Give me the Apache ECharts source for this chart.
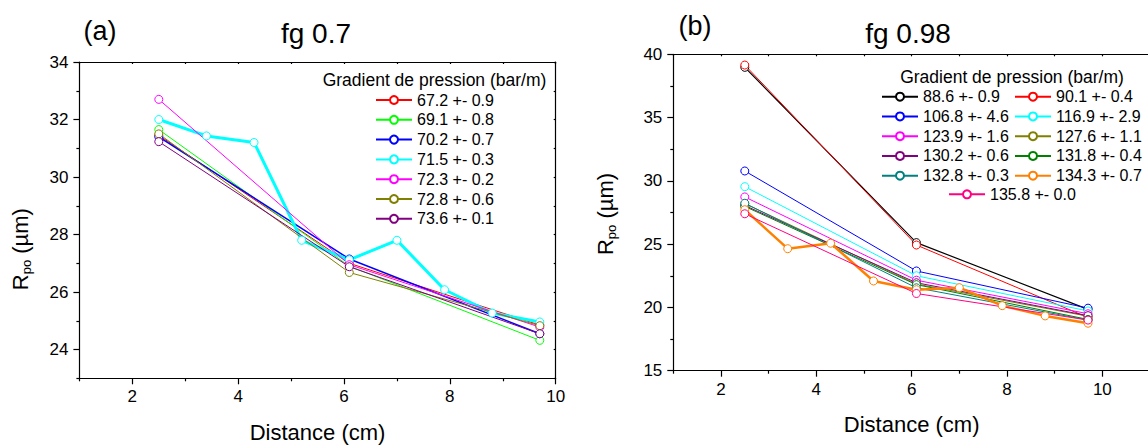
<!DOCTYPE html>
<html>
<head>
<meta charset="utf-8">
<script src="https://cdn.jsdelivr.net/npm/echarts@6/dist/echarts.min.js"></script>
<style>
html,body{margin:0;padding:0;background:#fff;}
#chart{width:1148px;height:447px;}
</style>
</head>
<body>
<div id="chart"></div>
<script>
// ---------- data ----------
const xTickMajor = [2, 4, 6, 8, 10];
const xTickMinorL = [1, 3, 5, 7, 9];
const xTickMinorR = [1, 3, 5, 7, 9, 11];
const yTickMajorL = [24, 26, 28, 30, 32, 34];
const yTickMinorL = [23, 25, 27, 29, 31, 33];
const yTickMajorR = [15, 20, 25, 30, 35, 40];
const yTickMinorR = [17.5, 22.5, 27.5, 32.5, 37.5];

// panel (a) fg 0.7
const xA = [2.5, 6.1, 9.7];
const xA_715 = [2.5, 3.4, 4.3, 5.2, 6.1, 7.0, 7.9, 8.8, 9.7];
const a672 = [31.45, 27.0, 24.85];
const a691 = [31.65, 26.9, 24.32];
const a702 = [31.4, 27.15, 24.55];
const a715 = [32.0, 31.43, 31.2, 27.8, 27.12, 27.8, 26.08, 25.27, 24.96];
const a723 = [32.7, 26.95, 24.78];
const a728 = [31.5, 26.68, 24.83];
const a736 = [31.23, 26.88, 24.55];

// panel (b) fg 0.98
const xB = [2.5, 6.1, 9.7];
const xB_1343 = [2.5, 3.4, 4.3, 5.2, 6.1, 7.0, 7.9, 8.8, 9.7];
const b886 = [38.97, 25.12, 19.85];
const b901 = [39.15, 24.93, 19.2];
const b1068 = [30.78, 22.88, 19.94];
const b1169 = [29.54, 22.5, 19.72];
const b1239 = [28.73, 22.15, 19.5];
const b1276 = [28.2, 21.85, 19.3];
const b1302 = [28.05, 21.95, 19.35];
const b1318 = [27.98, 21.8, 19.05];
const b1328 = [28.23, 21.55, 19.0];
const b1343 = [27.72, 24.64, 25.07, 22.09, 21.4, 21.56, 20.14, 19.33, 18.75];
const b1358 = [27.4, 21.1, 19.0];

const namesA = ['67.2 +- 0.9','69.1 +- 0.8','70.2 +- 0.7','71.5 +- 0.3','72.3 +- 0.2','72.8 +- 0.6','73.6 +- 0.1'];
const namesB = ['88.6 +- 0.9','90.1 +- 0.4','106.8 +- 4.6','116.9 +- 2.9','123.9 +- 1.6','127.6 +- 1.1','130.2 +- 0.6','131.8 +- 0.4','132.8 +- 0.3','134.3 +- 0.7','135.8 +- 0.0'];

// ---------- chart ----------
const FONT = '"Liberation Sans", Arial, Helvetica, sans-serif';
const chart = echarts.init(document.getElementById('chart'), null, {renderer: 'svg'});

function ser(name, xs, ys, color, width, ax) {
  return {
    name: name, type: 'line', xAxisIndex: ax, yAxisIndex: ax,
    data: xs.map((x, i) => [x, ys[i]]),
    symbol: 'circle', symbolSize: 8, showSymbol: true,
    lineStyle: {color: color, width: width},
    itemStyle: {color: '#fff', borderColor: color, borderWidth: 1},
    emphasis: {disabled: true}, animation: false
  };
}

const axisLineStyle = {color: '#000', width: 1.2};

function xAxes(grid, min, max, major, minor) {
  const all = major.concat(minor).sort((a, b) => a - b);
  return [
    {type: 'value', gridIndex: grid, position: 'bottom', min: min, max: max,
     axisLine: {show: true, lineStyle: axisLineStyle},
     axisTick: {show: true, customValues: major, length: 6, lineStyle: axisLineStyle},
     axisLabel: {show: true, customValues: major, margin: 10, fontSize: 17, fontFamily: FONT, color: '#000'},
     splitLine: {show: false},
     name: 'Distance (cm)', nameLocation: 'middle', nameGap: 43,
     nameTextStyle: {fontSize: 22, fontFamily: FONT, color: '#000'}},
    {type: 'value', gridIndex: grid, position: 'bottom', min: min, max: max,
     axisLine: {show: false},
     axisTick: {show: true, customValues: minor, length: 3, lineStyle: axisLineStyle},
     axisLabel: {show: false}, splitLine: {show: false}},
    {type: 'value', gridIndex: grid, position: 'top', min: min, max: max,
     axisLine: {show: true, lineStyle: axisLineStyle},
     axisTick: {show: true, customValues: all, length: 2, inside: true, lineStyle: axisLineStyle},
     axisLabel: {show: false}, splitLine: {show: false}}
  ];
}

function yAxes(grid, min, max, major, minor, gap, pad) {
  const all = major.concat(minor).sort((a, b) => a - b);
  return [
    {type: 'value', gridIndex: grid, position: 'left', min: min, max: max,
     axisLine: {show: true, lineStyle: axisLineStyle},
     axisTick: {show: true, customValues: major, length: 6, lineStyle: axisLineStyle},
     axisLabel: {show: true, customValues: major, margin: 11, fontSize: 17, fontFamily: FONT, color: '#000'},
     splitLine: {show: false},
     name: '{a|R}{b|po}{a| (µm)}', nameLocation: 'middle', nameGap: gap,
     nameTextStyle: {fontFamily: FONT, color: '#000', padding: pad,
       rich: {a: {fontSize: 22, fontFamily: FONT, color: '#000', lineHeight: 26, verticalAlign: 'middle'},
              b: {fontSize: 13, fontFamily: FONT, color: '#000', lineHeight: 26, verticalAlign: 'bottom'}}}},
    {type: 'value', gridIndex: grid, position: 'left', min: min, max: max,
     axisLine: {show: false},
     axisTick: {show: true, customValues: minor, length: 3, lineStyle: axisLineStyle},
     axisLabel: {show: false}, splitLine: {show: false}},
    {type: 'value', gridIndex: grid, position: 'right', min: min, max: max,
     axisLine: {show: true, lineStyle: axisLineStyle},
     axisTick: {show: true, customValues: all, length: 2, inside: true, lineStyle: axisLineStyle},
     axisLabel: {show: false}, splitLine: {show: false}}
  ];
}

const xs = xAxes(0, 1, 10, xTickMajor, xTickMinorL).concat(xAxes(1, 1, 11, xTickMajor, xTickMinorR));
const ys = yAxes(0, 23, 34, yTickMajorL, yTickMinorL, 46, [0, 58, 0, 0]).concat(yAxes(1, 15, 40, yTickMajorR, yTickMinorR, 55, [0, 3, 0, 0]));

const series = [
  ser(namesA[0], xA, a672, '#FF0000', 1, 0),
  ser(namesA[1], xA, a691, '#00FF00', 1, 0),
  ser(namesA[2], xA, a702, '#0000FF', 1.5, 0),
  ser(namesA[3], xA_715, a715, '#00FFFF', 3, 0),
  ser(namesA[4], xA, a723, '#FF00FF', 1, 0),
  ser(namesA[5], xA, a728, '#808000', 1, 0),
  ser(namesA[6], xA, a736, '#800080', 1, 0),
  ser(namesB[0], xB, b886, '#000000', 1.2, 3),
  ser(namesB[1], xB, b901, '#FF0000', 1, 3),
  ser(namesB[2], xB, b1068, '#0000FF', 1, 3),
  ser(namesB[3], xB, b1169, '#00FFFF', 1, 3),
  ser(namesB[4], xB, b1239, '#FF00FF', 1, 3),
  ser(namesB[5], xB, b1276, '#808000', 1, 3),
  ser(namesB[6], xB, b1302, '#800080', 1, 3),
  ser(namesB[7], xB, b1318, '#008000', 1, 3),
  ser(namesB[8], xB, b1328, '#008080', 1, 3),
  ser(namesB[9], xB_1343, b1343, '#FF8000', 2.5, 3),
  ser(namesB[10], xB, b1358, '#FF0080', 1, 3)
];

function leg(data, left, top, gap) {
  return {data: data, orient: 'vertical', left: left, top: top, padding: 0,
    itemWidth: 36, itemHeight: 10, itemGap: gap, selectedMode: false,
    textStyle: {fontSize: 16, fontFamily: FONT, color: '#000'}};
}

function txt(text, x, y, size) {
  return {type: 'text', x: x, y: y, silent: true,
    style: {text: text, fontSize: size, fontFamily: FONT, fill: '#000',
      align: 'center', verticalAlign: 'middle', textAlign: 'center', textVerticalAlign: 'middle'}};
}

chart.setOption({
  backgroundColor: '#fff',
  animation: false,
  textStyle: {fontFamily: FONT},
  grid: [
    {left: 79.4, top: 62, width: 476.3, height: 316.3, outerBoundsMode: 'none', containLabel: false},
    {left: 673.3, top: 54.3, width: 476.7, height: 316.4, outerBoundsMode: 'none', containLabel: false}
  ],
  xAxis: xs,
  yAxis: ys,
  legend: [
    leg(namesA, 375, 92, 3.8),
    leg([namesB[0], namesB[2], namesB[4], namesB[6], namesB[8]], 881, 88.7, 3.75),
    leg([namesB[1], namesB[3], namesB[5], namesB[7], namesB[9]], 1014, 88.7, 3.75),
    leg([namesB[10]], 948, 186.3, 3.75)
  ],
  graphic: [
    txt('fg 0.7', 316, 33, 28),
    txt('fg 0.98', 908, 33, 28),
    txt('(a)', 100, 31, 27),
    txt('(b)', 695, 26, 27),
    txt('Gradient de pression (bar/m)', 434.5, 80, 17.5),
    txt('Gradient de pression (bar/m)', 1012, 76.7, 17.5)
  ],
  series: series
});
</script>
</body>
</html>
